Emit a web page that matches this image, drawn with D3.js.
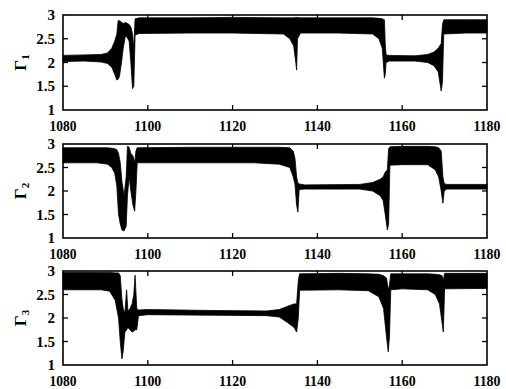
<!DOCTYPE html>
<html><head><meta charset="utf-8">
<script src="https://cdn.jsdelivr.net/npm/d3@7/dist/d3.min.js"></script>
<style>body{margin:0;background:#fff}svg{display:block}
text{font-family:"Liberation Serif","Times New Roman",Times,"DejaVu Serif",serif;font-weight:bold}</style>
</head><body><svg id="c" width="506" height="389"></svg>
<script>
// ---- data (envelope of the oscillating signals) ----
const xTicks = [1080, 1100, 1120, 1140, 1160, 1180];
const yTicks = [1, 1.5, 2, 2.5, 3];
const seriesNames = ["1", "2", "3"];

const g1Time = [1080,1085,1089,1090.5,1091.5,1092.2,1092.7,1093.0,1093.3,1093.8,1094.2,1094.7,1095.0,1095.6,1096.0,1096.4,1096.7,1097.0,1098,1110,1120,1132,1133.5,1134.4,1134.9,1135.1,1135.3,1136,1145,1153,1154.5,1155.3,1155.8,1156.0,1156.2,1157,1163,1166,1167.5,1168.5,1169.2,1169.5,1169.8,1175,1180];
const g1Low  = [2.02,2.03,2.01,1.98,1.90,1.75,1.63,1.65,1.70,2.00,2.30,2.55,2.55,2.45,2.00,1.45,1.50,2.58,2.61,2.62,2.62,2.60,2.50,2.35,2.00,1.84,2.50,2.62,2.62,2.60,2.50,2.30,1.67,1.75,2.00,2.03,2.03,2.00,1.93,1.80,1.40,1.60,2.60,2.62,2.62];
const g1High = [2.15,2.16,2.17,2.20,2.30,2.45,2.60,2.88,2.88,2.85,2.82,2.84,2.83,2.80,2.75,2.60,2.30,2.92,2.94,2.94,2.95,2.94,2.94,2.94,2.95,2.95,2.95,2.94,2.94,2.94,2.93,2.92,2.90,2.40,2.16,2.15,2.14,2.17,2.22,2.30,2.40,2.80,2.90,2.90,2.90];

const g2Time = [1080,1088,1090.5,1091.5,1092.2,1092.7,1093.1,1093.5,1093.9,1094.4,1094.9,1095.2,1095.6,1096.0,1096.5,1096.9,1097.2,1097.5,1110,1125,1131,1133.5,1134.3,1134.7,1135.1,1135.4,1135.7,1137,1150,1153,1154.8,1155.5,1156.0,1156.5,1156.8,1157.1,1160,1166,1167.8,1168.6,1169.2,1169.6,1169.9,1170.5,1180];
const g2Low  = [2.60,2.60,2.57,2.50,2.38,2.10,1.50,1.30,1.17,1.15,1.25,1.90,2.30,2.00,1.70,1.57,2.00,2.60,2.60,2.60,2.57,2.50,2.30,2.15,1.70,1.55,2.03,2.04,2.04,2.00,1.90,1.80,1.50,1.17,1.30,2.55,2.56,2.56,2.45,2.30,2.00,1.74,2.00,2.04,2.04];
const g2High = [2.92,2.92,2.92,2.91,2.90,2.88,2.80,2.60,2.20,1.90,2.30,2.95,2.93,2.80,2.75,2.60,2.85,2.92,2.93,2.93,2.93,2.92,2.85,2.70,2.30,2.17,2.15,2.13,2.14,2.18,2.25,2.30,2.40,2.45,2.90,2.94,2.95,2.95,2.94,2.92,2.85,2.30,2.16,2.14,2.14];

const g3Time = [1080,1089,1091,1092.3,1093.1,1093.5,1093.9,1094.2,1094.6,1095.0,1095.3,1095.8,1096.3,1096.7,1097.0,1097.4,1097.8,1100,1115,1128,1131,1133,1134.5,1135.1,1135.5,1135.8,1145,1152,1154.5,1155.6,1156.3,1156.7,1157.0,1157.3,1160,1166,1167.8,1168.8,1169.4,1169.7,1170.0,1180];
const g3Low  = [2.60,2.60,2.57,2.38,2.00,1.50,1.13,1.30,1.70,1.75,1.80,1.75,1.70,1.72,1.75,1.75,2.05,2.07,2.06,2.05,2.02,1.90,1.80,1.70,2.00,2.59,2.60,2.58,2.45,2.20,1.60,1.28,1.60,2.60,2.62,2.60,2.50,2.30,1.90,1.70,2.62,2.63];
const g3High = [2.97,2.97,2.97,2.96,2.96,2.90,2.40,2.20,2.10,2.60,2.15,2.20,2.30,2.50,2.91,2.20,2.17,2.18,2.16,2.15,2.18,2.25,2.30,2.30,2.80,2.94,2.95,2.94,2.93,2.90,2.85,2.60,2.70,2.94,2.94,2.94,2.93,2.92,2.90,2.80,2.95,2.95];

const panels = [
  {name: seriesNames[0], time: g1Time, low: g1Low, high: g1High, top: 15, bottom: 110},
  {name: seriesNames[1], time: g2Time, low: g2Low, high: g2High, top: 144, bottom: 238},
  {name: seriesNames[2], time: g3Time, low: g3Low, high: g3High, top: 271, bottom: 365}
];

const svg = d3.select("#c");
const left = 63, right = 487;
const x = d3.scaleLinear().domain([1080, 1180]).range([left, right]);

panels.forEach(p => {
  const y = d3.scaleLinear().domain([1, 3]).range([p.bottom, p.top]);
  const g = svg.append("g");
  const pts = p.time.map((t, i) => ({t, lo: p.low[i], hi: p.high[i]}));
  const area = d3.area().x(d => x(d.t)).y0(d => y(d.lo)).y1(d => y(d.hi));
  g.append("path").datum(pts).attr("d", area)
    .attr("fill", "#000").attr("stroke", "#000").attr("stroke-width", 0.8);

  // frame
  g.append("rect").attr("x", left).attr("y", p.top)
    .attr("width", right - left).attr("height", p.bottom - p.top)
    .attr("fill", "none").attr("stroke", "#000").attr("stroke-width", 1.6);

  // inward ticks
  xTicks.slice(1, -1).forEach(v => {
    g.append("line").attr("x1", x(v)).attr("x2", x(v)).attr("y1", p.bottom).attr("y2", p.bottom - 5)
      .attr("stroke", "#000").attr("stroke-width", 1.3);
    g.append("line").attr("x1", x(v)).attr("x2", x(v)).attr("y1", p.top).attr("y2", p.top + 5)
      .attr("stroke", "#000").attr("stroke-width", 1.3);
  });
  yTicks.slice(1, -1).forEach(v => {
    g.append("line").attr("x1", left).attr("x2", left + 5).attr("y1", y(v)).attr("y2", y(v))
      .attr("stroke", "#000").attr("stroke-width", 1.3);
    g.append("line").attr("x1", right).attr("x2", right - 5).attr("y1", y(v)).attr("y2", y(v))
      .attr("stroke", "#000").attr("stroke-width", 1.3);
  });

  // x tick labels
  xTicks.forEach(v => {
    g.append("text").attr("x", x(v)).attr("y", p.bottom + 21)
      .attr("text-anchor", "middle").attr("font-size", 15)
      .attr("textLength", 27).attr("lengthAdjust", "spacingAndGlyphs")
      .text(v);
  });
  // y tick labels
  yTicks.forEach(v => {
    g.append("text").attr("x", 55).attr("y", y(v) + 5)
      .attr("text-anchor", "end").attr("font-size", 15).text(v);
  });
  // y label
  const cy = (p.top + p.bottom) / 2;
  const lab = g.append("text").attr("transform", `translate(26,${cy}) rotate(-90)`)
    .attr("text-anchor", "middle").attr("font-size", 17);
  lab.append("tspan").text("Γ");
  lab.append("tspan").attr("font-size", 11).attr("dy", 3).text(p.name);
});
</script></body></html>
